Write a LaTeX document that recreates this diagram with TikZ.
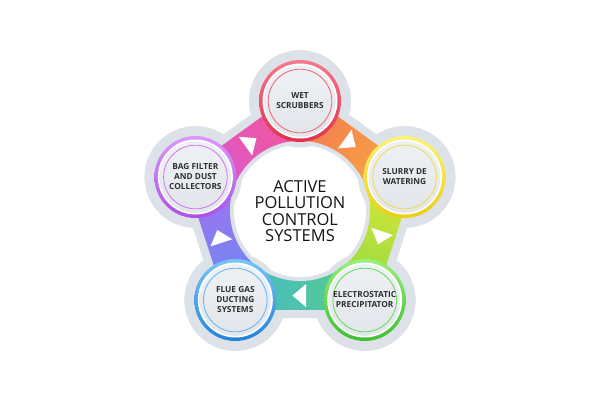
\documentclass[tikz,border=0pt]{standalone}
\usepackage{fontspec}
\setmainfont{Open Sans}
\usetikzlibrary{calc}
\definecolor{halo}{HTML}{DCE2E8}
\definecolor{innerA}{HTML}{EEF1F4}
\definecolor{innerB}{HTML}{E2E6EB}
\definecolor{txt}{HTML}{2E2E33}
% ring colours
\definecolor{wetT}{HTML}{F8788E}\definecolor{wetB}{HTML}{E2304C}\definecolor{wetL}{HTML}{F0606E}
\definecolor{slT}{HTML}{FAF27A}\definecolor{slB}{HTML}{EACF12}\definecolor{slL}{HTML}{F2DA48}
\definecolor{elT}{HTML}{98F078}\definecolor{elB}{HTML}{3EC02E}\definecolor{elL}{HTML}{62D852}
\definecolor{flT}{HTML}{78C6FA}\definecolor{flB}{HTML}{2282DA}\definecolor{flL}{HTML}{62B2F2}
\definecolor{bgT}{HTML}{DC98FA}\definecolor{bgB}{HTML}{AE4EE8}\definecolor{bgL}{HTML}{D274F2}
% band colours
\definecolor{bwA}{HTML}{D65CD6}\definecolor{bwB}{HTML}{F2559A}
\definecolor{wsA}{HTML}{F37A52}\definecolor{wsB}{HTML}{F9B03E}
\definecolor{seA}{HTML}{D9E63A}\definecolor{seB}{HTML}{88D840}
\definecolor{efA}{HTML}{58CF86}\definecolor{efB}{HTML}{46B8CC}
\definecolor{fbA}{HTML}{5F8CF0}\definecolor{fbB}{HTML}{A472F2}
\tikzset{
  lbl/.style={align=center, text=txt, font=\fontsize{8.3}{10}\selectfont\bfseries, inner sep=0pt},
  ttl/.style={align=center, text=black!92, font=\fontsize{16.5}{16.2}\selectfont, inner sep=0pt},
  arrowtri/.style={fill=white},
}
\begin{document}
\begin{tikzpicture}[x=1pt,y=-1pt]
\useasboundingbox (0,0) rectangle (600,400);
\coordinate (O) at (300,211);
\coordinate (W) at (300,101);
\coordinate (S) at (404.6,177);
\coordinate (E) at (364.7,300);
\coordinate (F) at (235.3,300);
\coordinate (B) at (195.4,177);
% outer grey halo
\fill[halo] (W)--(S)--(E)--(F)--(B)--cycle;
\draw[halo, line width=36, line join=round] (W)--(S)--(E)--(F)--(B)--cycle;
\foreach \p in {W,S,E,F,B} \fill[halo] (\p) circle (51);
% coloured bands
\foreach \p/\q/\ca/\cb/\ang in {B/W/bwA/bwB/-54, W/S/wsA/wsB/-126, S/E/seA/seB/162, E/F/efA/efB/90, F/B/fbA/fbB/18}{
  \shade[bottom color=\ca, top color=\cb, shading angle=\ang]
    (O) -- ($(O)!1.11!(\p)$) -- ($(O)!1.11!(\q)$) -- cycle;
}
% central blob
\fill[halo] (O) circle (70);
\fill[white] (O) circle (66);
\begin{scope}
  \clip (O) circle (70);
  \foreach \p in {W,S,E,F,B} \fill[halo] (\p) circle (46.5);
\end{scope}
% arrows
\foreach \p/\q/\ang in {B/W/36, W/S/-36, S/E/-108, E/F/180, F/B/108}{
  \coordinate (m) at ($(O)!0.95!($(\p)!0.5!(\q)$)$);
  \fill[arrowtri, shift={(m)}, rotate=\ang] (-6,-11.5) -- (-6,11.5) -- (7.5,0) -- cycle;
}
% circles
\foreach \p/\ct/\cbt/\cl in {W/wetT/wetB/wetL, S/slT/slB/slL, E/elT/elB/elL, F/flT/flB/flL, B/bgT/bgB/bgL}{
  \shade[top color=\ct, bottom color=\cbt] (\p) circle (41);
  \fill[white] (\p) circle (37.5);
  \shade[top color=innerA, bottom color=innerB] (\p) circle (35.8);
  \draw[\cl, line width=0.8] (\p) circle (31.8);
}
% labels
\node[lbl] (tW) at (W) {WET\\SCRUBBERS};
\node[lbl] (tS) at (S) {SLURRY DE\\WATERING};
\node[lbl] (tE) at (E) {ELECTROSTATIC\\PRECIPITATOR};
\node[lbl] (tF) at (F) {FLUE GAS\\DUCTING\\SYSTEMS};
\node[lbl] (tB) at (B) {BAG FILTER\\AND DUST\\COLLECTORS};
\node[ttl] (title) at (O) {ACTIVE\\POLLUTION\\CONTROL\\SYSTEMS};
\end{tikzpicture}
\end{document}
